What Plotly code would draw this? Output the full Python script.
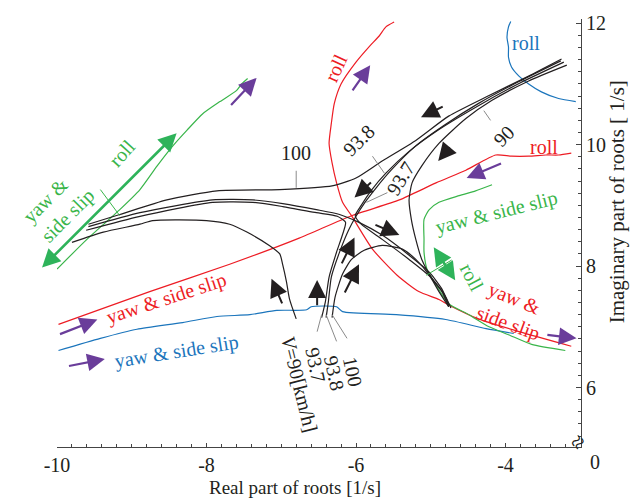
import plotly.graph_objects as go

# ---------------- data: real / imaginary parts of roots ----------------
# coloured mode loci
red_a_re = [-9.98, -8.76, -7.69, -6.76, -6.06, -5.42, -4.93, -4.53, -4.13, -3.92, -3.69, -3.46, -3.29, -3.12]
red_a_im = [7.04, 7.58, 8.03, 8.46, 8.83, 9.09, 9.37, 9.58, 9.83, 9.81, 9.81, 9.83, 9.83, 9.86]
red_b_re = [-5.49, -5.60, -5.69, -5.82, -6.00, -6.20, -6.29, -6.33, -6.36, -6.32, -6.26, -6.18, -6.06,
            -5.78, -5.45, -5.16, -4.89, -4.76, -4.36, -3.82, -3.12]
red_b_im = [12.02, 11.94, 11.79, 11.62, 11.36, 11.00, 10.68, 10.35, 10.02, 9.70, 9.37, 9.05, 8.83,
            8.28, 7.85, 7.58, 7.45, 7.36, 7.13, 6.92, 6.68]
blue_a_re = [-9.98, -9.42, -8.93, -8.32, -7.86, -7.42, -7.06, -6.66, -6.60, -6.26, -6.18, -5.46, -4.80, -4.26, -3.89]
blue_a_im = [6.61, 6.81, 6.96, 7.07, 7.17, 7.20, 7.27, 7.28, 7.33, 7.33, 7.25, 7.20, 7.12, 6.97, 6.89]
blue_b_re = [-3.93, -3.96, -3.98, -3.96, -3.96, -3.92, -3.82, -3.69, -3.52, -3.29, -3.06]
blue_b_im = [12.03, 11.94, 11.77, 11.61, 11.44, 11.28, 11.13, 11.00, 10.87, 10.76, 10.71]
green_a_re = [-10.0, -9.60, -9.16, -8.89, -8.66, -8.45, -8.26, -8.05, -7.82, -7.60, -7.53, -7.45]
green_a_im = [7.95, 8.44, 8.93, 9.26, 9.65, 9.98, 10.24, 10.51, 10.71, 10.89, 11.00, 11.09]
green_b_re = [-4.18, -4.40, -4.62, -4.89, -5.02, -5.09, -5.09, -5.09, -5.05, -4.93, -4.76, -4.49,
              -4.22, -3.96, -3.65, -3.20]
green_b_im = [9.34, 9.24, 9.16, 9.05, 8.93, 8.77, 8.44, 8.23, 7.95, 7.69, 7.38, 7.20,
              7.00, 6.87, 6.71, 6.61]

# black root loci for V = 90, 93.7, 93.8, 100 km/h
v90_a_re = [-9.80, -9.38, -8.89, -8.72, -8.00, -7.69, -7.46, -7.16, -7.02, -6.98, -6.93, -6.89, -6.80]
v90_a_im = [8.39, 8.56, 8.69, 8.75, 8.75, 8.69, 8.56, 8.34, 8.20, 8.02, 7.74, 7.46, 7.13]
v90_b_re = [-3.18, -3.69, -4.18, -4.53, -4.89, -5.12, -5.25, -5.29, -5.26, -5.20, -5.12, -4.98, -4.85, -4.76]
v90_b_im = [11.31, 11.05, 10.73, 10.43, 10.02, 9.65, 9.37, 9.09, 8.77, 8.44, 8.11, 7.79, 7.58, 7.33]
v100_a_re = [-9.58, -9.16, -8.53, -7.86, -7.02, -6.32, -6.00, -5.65, -5.20, -4.76, -4.22, -3.69, -3.25]
v100_a_im = [8.69, 8.85, 9.09, 9.24, 9.26, 9.32, 9.45, 9.73, 10.07, 10.47, 10.81, 11.13, 11.41]
v100_b_re = [-6.32, -6.28, -6.18, -6.06, -5.89, -5.65, -5.38, -5.20, -5.02, -4.89, -4.76]
v100_b_im = [7.15, 7.49, 7.87, 8.11, 8.26, 8.34, 8.28, 8.11, 7.85, 7.58, 7.33]
v938_a_re = [-9.58, -8.89, -7.92, -7.38, -6.98, -6.53, -6.22, -5.96, -5.65, -5.29, -5.02, -4.85, -4.76]
v938_a_im = [8.65, 8.88, 9.09, 9.09, 9.03, 8.93, 8.85, 8.72, 8.51, 8.18, 7.90, 7.62, 7.36]
v938_b_re = [-6.40, -6.37, -6.33, -6.22, -6.10, -6.00, -5.88, -5.73, -5.53, -5.20, -4.82, -4.36, -3.82, -3.26]
v938_b_im = [7.15, 7.41, 7.82, 8.23, 8.59, 8.82, 9.05, 9.29, 9.58, 9.98, 10.32, 10.68, 11.04, 11.38]
v937_a_re = [-9.61, -8.89, -7.92, -7.38, -6.98, -6.53, -6.25, -6.14, -6.18, -6.26, -6.36, -6.41, -6.46]
v937_a_im = [8.59, 8.82, 9.05, 9.05, 8.98, 8.88, 8.82, 8.72, 8.52, 8.23, 7.82, 7.41, 7.15]
v937_b_re = [-3.22, -3.80, -4.38, -4.89, -5.29, -5.60, -5.80, -5.93, -6.01, -5.93, -5.65, -5.29, -5.02, -4.82, -4.73]
v937_b_im = [11.36, 11.02, 10.63, 10.25, 9.89, 9.53, 9.24, 9.00, 8.83, 8.69, 8.44, 8.11, 7.84, 7.54, 7.31]

# arrows: tail (re, im) -> tip (re, im)
black_tail_re = [-4.82, -4.73, -5.78, -5.76, -6.20, -6.16, -6.98, -6.52]
black_tail_im = [10.64, 9.98, 9.40, 8.69, 8.02, 7.54, 7.36, 7.33]
black_tip_re = [-5.13, -4.90, -6.02, -5.42, -6.02, -5.96, -7.13, -6.52]
black_tip_im = [10.45, 9.73, 9.13, 8.51, 8.47, 8.03, 7.79, 7.77]
purple_tail_re = [-7.69, -6.06, -4.04, -3.46, -9.98, -9.86]
purple_tail_im = [10.63, 10.87, 9.70, 6.87, 6.87, 6.35]
purple_tip_re = [-7.33, -5.81, -4.52, -3.05, -9.46, -9.36]
purple_tip_im = [11.10, 11.31, 9.45, 6.81, 7.12, 6.47]
green_arrow_tail_re = [-10.22, -4.66]
green_arrow_tail_im = [7.95, 7.74]
green_arrow_tip_re = [-8.40, -4.96]
green_arrow_tip_im = [10.19, 8.31]

# short marker / leader segments: (re0, im0, re1, im1)
green_ticks = [(-9.42, 9.26, -9.16, 8.83), (-5.06, 7.85, -4.72, 8.10)]
leaders = [(-6.80, 9.57, -6.80, 9.29), (-5.78, 9.81, -5.62, 9.53), (-5.58, 9.21, -5.86, 9.05),
           (-4.29, 10.56, -4.20, 10.40), (-6.46, 7.20, -6.52, 6.92), (-6.40, 7.20, -6.26, 6.76),
           (-6.32, 7.20, -6.12, 6.81)]

# text labels: (text, re, im, angle, colour)
RED, GREEN, BLUE, BLACK = "#ed1c24", "#39b54a", "#1b75bc", "#231f20"
PURPLE, GARROW = "#6a3d9a", "#2eb35a"
labels = [
    ("roll", -9.13, 9.86, -48, GREEN),
    ("side slip", -9.85, 8.83, -45, GREEN),
    ("roll", -6.27, 11.26, -65, RED),
    ("roll", -3.72, 11.67, 0, BLUE),
    ("roll", -3.49, 9.96, 0, RED),
    ("yaw &amp; side slip", -4.12, 8.88, -14, GREEN),
    ("roll", -4.45, 7.82, 62, GREEN),
    ("yaw &amp;", -3.89, 7.46, 22, RED),
    ("side slip", -3.96, 7.05, 20, RED),
    ("yaw &amp; side slip", -8.54, 7.46, -18, RED),
    ("yaw &amp; side slip", -8.40, 6.60, -9, BLUE),
    ("100", -6.80, 9.86, 0, BLACK),
    ("93.8", -5.96, 10.08, -45, BLACK),
    ("93.7", -5.40, 9.45, -58, BLACK),
    ("90", -4.02, 10.14, -45, BLACK),
    ("93.7", -6.54, 6.37, 78, BLACK),
    ("93.8", -6.29, 6.24, 78, BLACK),
    ("100", -6.04, 6.26, 78, BLACK),
    ("<i>V</i>=90[km/h]", -6.76, 6.05, 76, BLACK),
]

x_tickvals = [-10, -8, -6, -4]
x_ticktext = ["-10", "-8", "-6", "-4"]
y_tickvals = [6, 8, 10, 12]
y_ticktext = ["6", "8", "10", "12"]

FONT = "Liberation Serif"
fig = go.Figure()


def add_line(xs, ys, color, width=1.2, smooth=0.6):
    fig.add_trace(go.Scatter(x=xs, y=ys, mode="lines", hoverinfo="skip", showlegend=False,
                             line=dict(color=color, width=width, shape="spline", smoothing=smooth)))


add_line(red_a_re, red_a_im, RED)
add_line(red_b_re, red_b_im, RED)
add_line(blue_a_re, blue_a_im, BLUE)
add_line(blue_b_re, blue_b_im, BLUE)
add_line(green_a_re, green_a_im, GREEN)
add_line(green_b_re, green_b_im, GREEN)
for xs, ys in [(v90_a_re, v90_a_im), (v90_b_re, v90_b_im), (v100_a_re, v100_a_im), (v100_b_re, v100_b_im),
               (v938_a_re, v938_a_im), (v938_b_re, v938_b_im), (v937_a_re, v937_a_im), (v937_b_re, v937_b_im)]:
    add_line(xs, ys, BLACK, 1.2)

for x0, y0, x1, y1 in green_ticks:
    add_line([x0, x1], [y0, y1], GREEN, 1.0, 0)
for x0, y0, x1, y1 in leaders:
    add_line([x0, x1], [y0, y1], "#8a8a8a", 1.0, 0)

anns = []


def arrow(tx, ty, hx, hy, color, width, size, both=False):
    d = dict(x=hx, y=hy, ax=tx, ay=ty, xref="x", yref="y", axref="x", ayref="y", text="",
             showarrow=True, arrowhead=2, arrowsize=size, arrowwidth=width, arrowcolor=color,
             standoff=0, startstandoff=0)
    if both:
        d.update(arrowside="end+start", startarrowhead=2, startarrowsize=size)
    anns.append(d)


for i in range(len(black_tip_re)):
    arrow(black_tail_re[i], black_tail_im[i], black_tip_re[i], black_tip_im[i], BLACK, 2, 1.8)
for i in range(len(purple_tip_re)):
    arrow(purple_tail_re[i], purple_tail_im[i], purple_tip_re[i], purple_tip_im[i], PURPLE, 2.2, 1.6)
for i in range(len(green_arrow_tip_re)):
    arrow(green_arrow_tail_re[i], green_arrow_tail_im[i], green_arrow_tip_re[i], green_arrow_tip_im[i],
          GARROW, 2.6, 1.4, both=True)

for t, x, y, ang, col in labels:
    anns.append(dict(x=x, y=y, xref="x", yref="y", text=t, showarrow=False, textangle=ang,
                     xanchor="center", yanchor="middle",
                     font=dict(family=FONT, size=20, color=col)))


def paper_text(t, x, y, ang=0, size=20, col=BLACK):
    anns.append(dict(x=x, y=y, xref="paper", yref="paper", text=t, showarrow=False, textangle=ang,
                     xanchor="center", yanchor="middle", font=dict(family=FONT, size=size, color=col)))


# labels placed relative to the frame
paper_text("yaw &amp;", -0.021, 0.575, -45, 20, GREEN)
paper_text("Real part of roots [1/s]", 0.454, -0.0949, 0, 19)
paper_text("Imaginary part of roots [ 1/s]", 1.069, 0.572, -90, 21)
paper_text("0", 1.027, -0.034, 0, 20)
paper_text("≈", 0.994, 0.012, -50, 24)

fig.update_layout(
    width=636, height=500,
    margin=dict(l=57, r=55, t=15, b=53),
    paper_bgcolor="white", plot_bgcolor="white",
    showlegend=False,
    annotations=anns,
    font=dict(family=FONT, size=20, color=BLACK),
    xaxis=dict(range=[-10.0, -2.99], showgrid=False, zeroline=False, showline=True,
               linecolor="#444", linewidth=1, ticks="inside", ticklen=4, tickcolor="#444",
               tickvals=x_tickvals, ticktext=x_ticktext, tickfont=dict(family=FONT, size=20),
               ticklabelstandoff=0,
               minor=dict(dtick=0.2, tick0=-10, ticks="inside", ticklen=3, tickcolor="#444")),
    yaxis=dict(range=[5.02, 12.07], side="right", showgrid=False, zeroline=False, showline=True,
               linecolor="#444", linewidth=1, ticks="inside", ticklen=5, tickcolor="#444",
               tickvals=y_tickvals, ticktext=y_ticktext, tickfont=dict(family=FONT, size=20),
               minor=dict(dtick=0.2, tick0=6, ticks="inside", ticklen=3, tickcolor="#444")),
)

fig.write_html("out.html")
